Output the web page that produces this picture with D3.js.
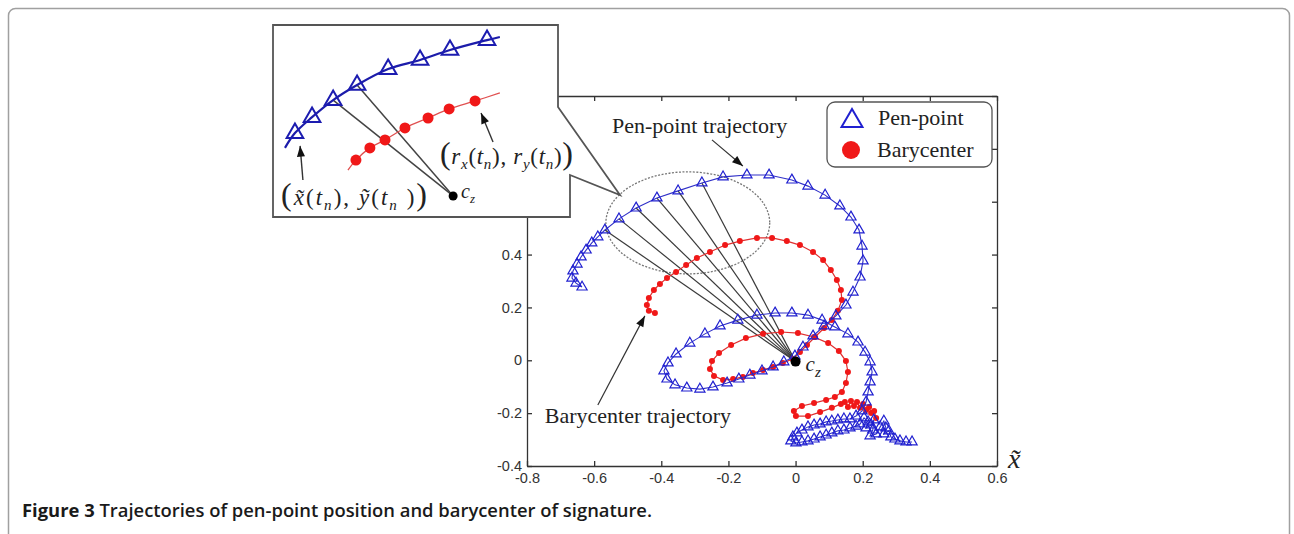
<!DOCTYPE html>
<html>
<head>
<meta charset="utf-8">
<script src="https://cdn.jsdelivr.net/npm/d3@7"></script>
<style>
  body { margin: 0; background: #fff; }
  .axis text { font-family: "Liberation Sans", Arial, sans-serif; font-size: 14.5px; fill: #333; }
  .axis path, .axis line { stroke: #333; stroke-width: 1.3; }
  .serif { font-family: "Liberation Serif", "Times New Roman", serif; fill: #222; }
</style>
</head>
<body>
<script>
// tick values
const xTicks = [-0.8, -0.6, -0.4, -0.2, 0, 0.2, 0.4, 0.6];
const yTicks = [-0.4, -0.2, 0, 0.2, 0.4, 0.6, 0.8, 1.0];
const yTickLabels = ["-0.4", "-0.2", "0", "0.2", "0.4", "", "", ""]; // upper ones sit under the inset

// pen-point trajectory (x~, y~)
const penPoint = [
  [-0.636,0.277],[-0.654,0.292],[-0.666,0.311],[-0.663,0.338],[-0.651,0.364],[-0.639,0.391],
  [-0.624,0.417],[-0.607,0.444],[-0.589,0.467],[-0.568,0.493],[-0.526,0.535],[-0.475,0.576],
  [-0.413,0.614],[-0.350,0.641],[-0.279,0.671],[-0.216,0.694],[-0.145,0.701],[-0.079,0.701],
  [-0.011,0.682],[0.037,0.659],[0.088,0.625],[0.132,0.584],[0.165,0.542],[0.189,0.493],
  [0.198,0.432],[0.201,0.376],[0.192,0.315],[0.171,0.258],[0.150,0.209],[0.120,0.168],
  [0.085,0.130],[0.052,0.092],[0.022,0.050],[-0.002,0.016],[-0.035,-0.006],[-0.067,-0.025],
  [-0.100,-0.040],[-0.136,-0.056],[-0.169,-0.071],[-0.204,-0.086],[-0.246,-0.101],[-0.285,-0.109],
  [-0.324,-0.105],[-0.359,-0.093],[-0.383,-0.071],[-0.392,-0.040],[-0.380,-0.010],[-0.356,0.024],
  [-0.315,0.065],[-0.270,0.100],[-0.225,0.130],[-0.172,0.152],[-0.115,0.171],[-0.061,0.179],
  [-0.011,0.179],[0.037,0.171],[0.079,0.152],[0.117,0.126],[0.156,0.100],[0.186,0.069],
  [0.207,0.031],[0.222,-0.006],[0.228,-0.044],[0.222,-0.082],[0.216,-0.120],[0.210,-0.158],
  [0.198,-0.192],[0.180,-0.211],[0.162,-0.222],[0.144,-0.222],[0.126,-0.226],[0.108,-0.230],
  [0.091,-0.233],[0.073,-0.241],[0.055,-0.245],[0.037,-0.252],[0.019,-0.264],[0.004,-0.275],
  [-0.008,-0.290],[-0.014,-0.305],[0.001,-0.313],[0.019,-0.309],[0.037,-0.305],[0.055,-0.298],
  [0.073,-0.290],[0.091,-0.283],[0.108,-0.275],[0.126,-0.267],[0.144,-0.264],[0.162,-0.256],
  [0.180,-0.249],[0.192,-0.241],[0.204,-0.218],[0.216,-0.233],[0.210,-0.256],[0.225,-0.245],
  [0.233,-0.226],[0.230,-0.264],[0.222,-0.286],[0.240,-0.279],[0.252,-0.252],[0.263,-0.230],
  [0.269,-0.256],[0.263,-0.279],[0.278,-0.267],[0.284,-0.290],[0.296,-0.298],[0.311,-0.305],
  [0.329,-0.309],[0.347,-0.309]
];

// barycenter trajectory (r_x, r_y)
const barycenter = [
  [-0.419,0.179],[-0.437,0.187],[-0.443,0.209],[-0.437,0.236],[-0.422,0.266],[-0.404,0.289],
  [-0.383,0.311],[-0.356,0.334],[-0.326,0.361],[-0.294,0.387],[-0.255,0.410],[-0.210,0.436],
  [-0.166,0.451],[-0.115,0.463],[-0.070,0.463],[-0.026,0.451],[0.013,0.436],[0.052,0.410],
  [0.082,0.379],[0.105,0.342],[0.123,0.304],[0.135,0.266],[0.138,0.228],[0.126,0.187],
  [0.108,0.152],[0.085,0.122],[0.058,0.088],[0.034,0.058],[0.013,0.031],[-0.008,0.005],
  [-0.038,-0.010],[-0.067,-0.025],[-0.097,-0.037],[-0.127,-0.048],[-0.157,-0.063],[-0.186,-0.071],
  [-0.216,-0.075],[-0.243,-0.059],[-0.255,-0.033],[-0.249,-0.003],[-0.228,0.028],[-0.192,0.058],
  [-0.148,0.084],[-0.097,0.100],[-0.043,0.107],[0.007,0.103],[0.055,0.088],[0.097,0.065],
  [0.129,0.035],[0.150,-0.003],[0.156,-0.044],[0.150,-0.086],[0.138,-0.120],[0.117,-0.139],
  [0.091,-0.150],[0.055,-0.162],[0.019,-0.173],[-0.005,-0.192],[0.001,-0.211],[0.037,-0.211],
  [0.073,-0.196],[0.108,-0.180],[0.135,-0.165],[0.147,-0.158],[0.156,-0.177],[0.165,-0.154],
  [0.174,-0.173],[0.183,-0.158],[0.192,-0.180],[0.201,-0.165],[0.210,-0.188],[0.219,-0.177],
  [0.225,-0.199],[0.234,-0.192],[0.240,-0.218]
];

const cz = [0, -0.005];
const linkedPen = [9, 10, 11, 12, 13, 14]; // pen samples joined to c_z

// zoomed inset (its own units)
const insetPen = [[0.42,2.43],[0.77,2.95],[1.37,3.51],[2.11,4.11],[2.95,4.64],[4.04,5.20],
                  [5.16,5.52],[6.21,5.87],[7.51,6.22],[7.96,6.33]];
const insetBary = [[2.63,1.65],[2.91,2.00],[3.40,2.43],[3.93,2.71],[4.63,3.13],[5.44,3.48],
                   [6.18,3.80],[7.09,4.08],[7.96,4.36]];
const insetCz = [6.32, 0.74];
const insetLinked = [3, 4];

const W = 1294, H = 534;
const svg = d3.select("body").append("svg").attr("width", W).attr("height", H);

const defs = svg.append("defs");
defs.append("marker")
  .attr("id", "arr").attr("viewBox", "0 0 12 10").attr("refX", 12).attr("refY", 5)
  .attr("markerWidth", 12).attr("markerHeight", 9).attr("markerUnits", "userSpaceOnUse")
  .attr("orient", "auto")
  .append("path").attr("d", "M0,0.5 L12,5 L0,9.5 Z").attr("fill", "#111");

// figure frame
svg.append("rect").attr("x", 8.5).attr("y", 8.5).attr("width", 1281).attr("height", 570)
  .attr("rx", 7).attr("fill", "none").attr("stroke", "#a0a0a0").attr("stroke-width", 1.5);

const x = d3.scaleLinear().domain([-0.8, 0.6]).range([527, 997]);
const y = d3.scaleLinear().domain([-0.4, 1.0]).range([466, 96]);

svg.append("g").attr("class", "axis").attr("transform", "translate(0,466)")
  .call(d3.axisBottom(x).tickValues(xTicks).tickSize(-5).tickSizeOuter(0).tickPadding(7).tickFormat(d => String(d)));
svg.append("g").attr("class", "axis").attr("transform", "translate(0,96)")
  .call(d3.axisTop(x).tickValues(xTicks).tickSize(-5).tickSizeOuter(0).tickFormat(""));
svg.append("g").attr("class", "axis").attr("transform", "translate(527,0)")
  .call(d3.axisLeft(y).tickValues(yTicks).tickSize(-5).tickSizeOuter(0).tickPadding(5)
    .tickFormat((d, i) => yTickLabels[i]));
svg.append("g").attr("class", "axis").attr("transform", "translate(997,0)")
  .call(d3.axisRight(y).tickValues(yTicks).tickSize(-5).tickSizeOuter(0).tickFormat(""));

// x~ axis label
svg.append("text").attr("class", "serif").attr("x", 1008).attr("y", 468)
  .attr("font-size", 28).attr("font-style", "italic").text("x\u0303");

// dotted ellipse around the zoomed part
const ell = [-0.321, 0.520], ellR = [0.244, 0.193];
svg.append("ellipse")
  .attr("cx", x(ell[0])).attr("cy", y(ell[1]))
  .attr("rx", x(ell[0] + ellR[0]) - x(ell[0])).attr("ry", y(ell[1]) - y(ell[1] + ellR[1]))
  .attr("fill", "none").attr("stroke", "#777").attr("stroke-width", 1.3).attr("stroke-dasharray", "2,1.5");

// lines from c_z to pen samples
svg.append("g").selectAll("line").data(linkedPen).join("line")
  .attr("x1", x(cz[0])).attr("y1", y(cz[1]))
  .attr("x2", i => x(penPoint[i][0])).attr("y2", i => y(penPoint[i][1]))
  .attr("stroke", "#3a3a3a").attr("stroke-width", 1.2);

const line = d3.line().x(d => x(d[0])).y(d => y(d[1]));

// barycenter
svg.append("path").attr("d", line(barycenter)).attr("fill", "none")
  .attr("stroke", "#e03030").attr("stroke-width", 1.2);
svg.append("g").selectAll("circle").data(barycenter).join("circle")
  .attr("cx", d => x(d[0])).attr("cy", d => y(d[1])).attr("r", 3).attr("fill", "#f01818");

// pen-point
const tri = d3.symbol(d3.symbolTriangle);
svg.append("path").attr("d", line(penPoint)).attr("fill", "none")
  .attr("stroke", "#3030c8").attr("stroke-width", 1.1);
svg.append("g").selectAll("path").data(penPoint).join("path")
  .attr("d", tri.size(45)())
  .attr("transform", d => `translate(${x(d[0])},${y(d[1])})`)
  .attr("fill", "none").attr("stroke", "#2020d0").attr("stroke-width", 1.2);

// c_z
svg.append("circle").attr("cx", x(cz[0])).attr("cy", y(cz[1])).attr("r", 5).attr("fill", "#000");
const czLab = svg.append("text").attr("class", "serif").attr("x", x(cz[0]) + 10).attr("y", y(cz[1]) + 9)
  .attr("font-size", 21).attr("font-style", "italic");
czLab.append("tspan").text("c");
czLab.append("tspan").attr("dy", 6).attr("font-size", 15).text("z");

// annotations
const annot = [
  { text: "Pen-point trajectory", at: [-0.547, 0.860], from: [-0.249, 0.834], to: [-0.157, 0.735] },
  { text: "Barycenter trajectory", at: [-0.747, -0.237], from: [-0.589, -0.169], to: [-0.449, 0.168] }
];
annot.forEach(a => {
  svg.append("text").attr("class", "serif").attr("x", x(a.at[0])).attr("y", y(a.at[1]))
    .attr("font-size", 22).text(a.text);
  svg.append("line").attr("x1", x(a.from[0])).attr("y1", y(a.from[1]))
    .attr("x2", x(a.to[0])).attr("y2", y(a.to[1]))
    .attr("stroke", "#333").attr("stroke-width", 1.2).attr("marker-end", "url(#arr)");
});

// legend
const lg = svg.append("g").attr("transform", "translate(827,102)");
lg.append("rect").attr("width", 165).attr("height", 65).attr("rx", 8)
  .attr("fill", "#fff").attr("stroke", "#555").attr("stroke-width", 1.3);
lg.append("path").attr("d", tri.size(190)()).attr("transform", "translate(25,19)")
  .attr("fill", "none").attr("stroke", "#2020d0").attr("stroke-width", 2);
lg.append("circle").attr("cx", 24).attr("cy", 48).attr("r", 9).attr("fill", "#f01818");
lg.append("text").attr("class", "serif").attr("x", 51).attr("y", 23).attr("font-size", 22).text("Pen-point");
lg.append("text").attr("class", "serif").attr("x", 50).attr("y", 55).attr("font-size", 22).text("Barycenter");

// inset callout
const callout = [[273,25],[558,25],[558,107],[620,195],[570,175],[570,217],[273,217]];
svg.append("path").attr("d", d3.line()(callout) + "Z")
  .attr("fill", "#fff").attr("stroke", "#555").attr("stroke-width", 1.8).attr("stroke-linejoin", "miter");

const ix = d3.scaleLinear().domain([0, 10]).range([273, 558]);
const iy = d3.scaleLinear().domain([0, 6.75]).range([217, 25]);
const iline = d3.line().x(d => ix(d[0])).y(d => iy(d[1])).curve(d3.curveCatmullRom);

const ig = svg.append("g");
ig.selectAll("line.lk").data(insetLinked).join("line")
  .attr("x1", ix(insetCz[0])).attr("y1", iy(insetCz[1]))
  .attr("x2", i => ix(insetPen[i][0])).attr("y2", i => iy(insetPen[i][1]))
  .attr("stroke", "#444").attr("stroke-width", 1.5);
ig.append("path").attr("d", iline(insetBary)).attr("fill", "none").attr("stroke", "#e05050").attr("stroke-width", 1.3);
ig.selectAll("circle.b").data(insetBary.slice(1, -1)).join("circle")
  .attr("cx", d => ix(d[0])).attr("cy", d => iy(d[1])).attr("r", 5.5).attr("fill", "#f01818");
ig.append("path").attr("d", iline(insetPen)).attr("fill", "none").attr("stroke", "#1c1caa").attr("stroke-width", 2.2);
ig.selectAll("path.t").data(insetPen.slice(1, -1)).join("path")
  .attr("d", tri.size(120)())
  .attr("transform", d => `translate(${ix(d[0])},${iy(d[1])})`)
  .attr("fill", "none").attr("stroke", "#1c1cb0").attr("stroke-width", 2);
ig.append("circle").attr("cx", ix(insetCz[0])).attr("cy", iy(insetCz[1])).attr("r", 4.5).attr("fill", "#000");
const iczLab = ig.append("text").attr("class", "serif").attr("x", ix(insetCz[0]) + 8).attr("y", iy(insetCz[1]) + 2)
  .attr("font-size", 20).attr("font-style", "italic");
iczLab.append("tspan").text("c");
iczLab.append("tspan").attr("dy", 5).attr("font-size", 13).text("z");

// inset arrows
const insetArrows = [[[1.05, 1.30], [0.95, 2.50]], [[7.72, 2.64], [7.30, 3.66]]];
ig.selectAll("line.ar").data(insetArrows).join("line")
  .attr("x1", d => ix(d[0][0])).attr("y1", d => iy(d[0][1]))
  .attr("x2", d => ix(d[1][0])).attr("y2", d => iy(d[1][1]))
  .attr("stroke", "#333").attr("stroke-width", 1.4).attr("marker-end", "url(#arr)");

// inset formula labels
function formula(px, py, len, parts) {
  const t = ig.append("text").attr("class", "serif").attr("x", px).attr("y", py).attr("font-size", 23)
    .attr("textLength", len).attr("lengthAdjust", "spacing");
  parts.forEach(p => {
    const s = t.append("tspan").text(p.t);
    if (p.i) s.attr("font-style", "italic");
    if (p.dy) s.attr("dy", p.dy);
    if (p.fs) s.attr("font-size", p.fs);
  });
}
formula(281, 205, 146, [
  { t: "(", fs: 32 }, { t: "x\u0303", i: 1 }, { t: "(" }, { t: "t", i: 1 }, { t: "n", i: 1, dy: 5, fs: 15 },
  { t: "), ", dy: -5 }, { t: "y\u0303", i: 1 }, { t: "(" }, { t: "t", i: 1 }, { t: "n", i: 1, dy: 5, fs: 15 },
  { t: " )", dy: -5 }, { t: ")", fs: 32 }
]);
formula(440, 164, 133, [
  { t: "(", fs: 32 }, { t: "r", i: 1 }, { t: "x", i: 1, dy: 5, fs: 15 }, { t: "(", dy: -5 }, { t: "t", i: 1 },
  { t: "n", i: 1, dy: 5, fs: 15 }, { t: "), ", dy: -5 }, { t: "r", i: 1 }, { t: "y", i: 1, dy: 5, fs: 15 },
  { t: "(", dy: -5 }, { t: "t", i: 1 }, { t: "n", i: 1, dy: 5, fs: 15 }, { t: ")", dy: -5 }, { t: ")", fs: 32 }
]);

// caption
const cap = svg.append("text").attr("x", 22).attr("y", 517)
  .attr("font-family", "'Open Sans', 'Noto Sans', sans-serif").attr("font-size", 18).attr("fill", "#1a1a1a")
  .attr("textLength", 630).attr("lengthAdjust", "spacingAndGlyphs");
cap.append("tspan").attr("font-weight", 700).text("Figure 3");
cap.append("tspan").attr("font-weight", 600).text(" Trajectories of pen-point position and barycenter of signature.");
</script>
</body>
</html>
